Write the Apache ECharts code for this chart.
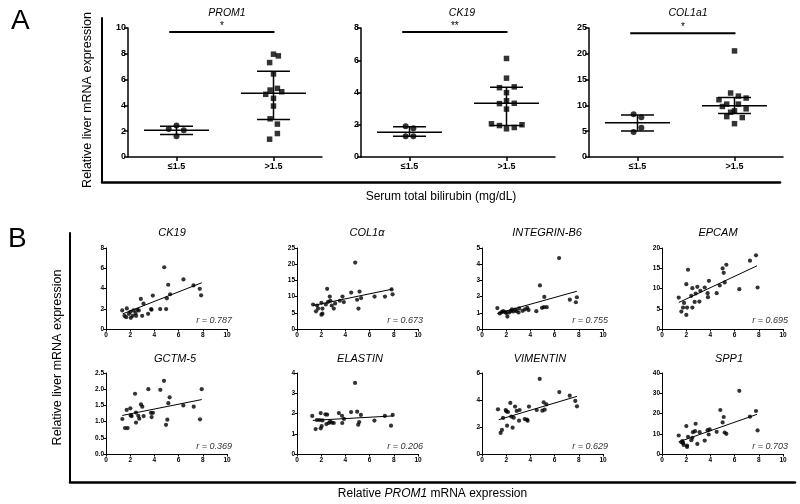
<!DOCTYPE html>
<html><head><meta charset="utf-8">
<script src="https://cdn.jsdelivr.net/npm/echarts@6/dist/echarts.min.js"></script>
<style>html,body{margin:0;padding:0;background:#fff}#c{width:800px;height:504px}</style>
</head><body><div id="c"></div>
<script>
// ---------- DATA: panel A (dot plots) ----------
const groupLabels = ['≤1.5', '>1.5'];
const aTitles = ['PROM1', 'CK19', 'COL1a1'];
const aYMax = [10, 8, 25];
const aYInterval = [2, 2, 5];
// x = group position (1 = ≤1.5, 3 = >1.5) incl. jitter, y = value
const promLowX = [0.84, 1.0, 1.15, 1.0];
const promLowY = [2.18, 2.44, 2.08, 1.61];
const promHighX = [3.0, 3.1, 2.92, 3.0, 2.93, 3.08, 2.84, 3.17, 3.0, 3.0, 2.93, 3.08, 3.08, 2.92];
const promHighY = [7.97, 7.84, 7.32, 6.44, 5.19, 5.32, 4.86, 5.06, 4.55, 3.95, 2.96, 2.55, 1.82, 1.38];
const promSummary = [[1, 2.08, 1.74, 2.39], [3, 4.95, 2.9, 6.65]];

const ckLowX = [0.92, 1.08, 0.92, 1.08];
const ckLowY = [1.91, 1.79, 1.29, 1.29];
const ckHighX = [3.0, 3.0, 2.855, 3.16, 3.0, 2.855, 3.0, 3.16, 3.0, 2.69, 2.855, 3.0, 3.16, 3.32];
const ckHighY = [6.11, 4.89, 4.30, 4.35, 3.99, 3.31, 3.49, 3.33, 2.97, 2.06, 1.95, 1.75, 1.83, 2.0];
const ckSummary = [[1, 1.54, 1.29, 1.87], [3, 3.33, 1.95, 4.32]];

const colLowX = [0.92, 1.08, 1.08, 0.92];
const colLowY = [8.29, 7.70, 5.68, 4.83];
const colHighX = [3.0, 2.92, 3.08, 3.24, 2.68, 2.84, 3.08, 2.75, 3.24, 3.0, 2.92, 2.84, 3.16, 3.0];
const colHighY = [20.56, 12.4, 11.8, 11.42, 11.1, 10.25, 10.25, 9.79, 9.33, 8.94, 8.68, 7.83, 7.64, 6.46];
const colSummary = [[1, 6.66, 5.03, 8.16], [3, 9.92, 8.42, 11.55]];

// significance bars: [xStart, xEnd, y]
const sigBars = [[0.85, 3.02, 9.69], [0.85, 3.02, 7.75], [0.85, 3.02, 24.0]];
const sigLabels = ['*', '**', '*'];

// ---------- DATA: panel B (correlations vs PROM1) ----------
const bTitles = ['CK19', 'COL1α', 'INTEGRIN-B6', 'EPCAM', 'GCTM-5', 'ELASTIN', 'VIMENTIN', 'SPP1'];
const bR = ['r = 0.787', 'r = 0.673', 'r = 0.755', 'r = 0.695', 'r = 0.369', 'r = 0.206', 'r = 0.629', 'r = 0.703'];
const bYMax = [8, 25, 5, 20, 2.5, 4, 6, 40];
const bYInterval = [2, 5, 1, 5, 0.5, 1, 2, 10];

const ck19B = [[1.34,1.83],[1.53,1.3],[1.72,2.03],[1.67,1.17],[1.89,1.5],[2.02,1.7],[2.05,1.1],[2.2,1.3],[2.27,1.83],[2.44,1.57],[2.49,1.3],[2.58,1.9],[2.71,1.83],[2.88,2.97],[2.99,1.3],[3.1,2.5],[3.48,1.5],[3.73,1.97],[3.76,1.9],[3.87,3.3],[4.48,1.97],[4.81,6.1],[4.97,1.97],[5.03,3.03],[5.14,4.37],[5.3,3.43],[6.4,4.9],[7.23,4.3],[7.75,3.97],[7.86,3.33]];
const col1B = [[1.33,7.56],[1.57,5.46],[1.66,7.25],[1.74,6.3],[2.02,8.09],[2.02,4.41],[2.1,4.73],[2.1,6.3],[2.38,7.56],[2.49,12.4],[2.57,8.4],[2.71,10.0],[2.76,8.72],[2.87,7.25],[3.04,6.3],[3.15,7.88],[3.54,8.72],[3.76,10.0],[3.87,8.3],[4.48,11.24],[4.81,20.5],[4.97,9.03],[5.08,6.3],[5.17,11.55],[5.3,9.56],[6.41,10.0],[7.27,10.0],[7.82,12.2],[7.9,10.7]];
const intB = [[1.27,1.29],[1.47,0.96],[1.63,1.04],[1.75,1.1],[1.91,1.04],[2.02,0.98],[2.1,0.77],[2.24,1.02],[2.38,1.1],[2.47,1.21],[2.58,1.08],[2.74,1.19],[2.85,1.1],[3.02,1.02],[3.07,1.27],[3.35,1.12],[3.55,1.21],[3.74,1.31],[3.85,1.17],[4.49,1.1],[4.79,2.69],[4.96,1.31],[5.15,1.98],[5.12,1.35],[5.35,1.35],[6.37,4.38],[7.26,1.81],[7.76,1.65],[7.84,1.96]];
const epcamB = [[1.38,7.77],[1.6,4.3],[1.74,5.29],[1.82,6.45],[2.01,11.07],[2.07,5.29],[2.01,3.47],[2.15,14.63],[2.42,8.18],[2.51,10.08],[2.51,5.29],[2.7,6.69],[2.78,8.76],[2.92,10.41],[3.09,6.78],[3.17,9.42],[3.53,10.25],[3.77,8.84],[3.8,7.85],[3.88,11.9],[4.52,8.84],[4.77,10.74],[5.01,14.96],[5.1,13.88],[5.18,11.49],[5.32,15.87],[6.39,9.83],[7.27,16.86],[7.77,18.18],[7.9,10.25]];
const gctmB = [[1.35,1.08],[1.57,0.8],[1.71,1.36],[1.79,0.8],[2.01,1.41],[2.04,1.19],[2.12,1.17],[2.4,1.86],[2.48,0.97],[2.48,1.28],[2.67,1.18],[2.75,1.09],[2.89,1.53],[3.0,1.46],[3.11,1.17],[3.5,2.0],[3.72,1.27],[3.77,1.14],[3.88,1.27],[4.49,1.98],[4.79,2.26],[4.96,0.9],[5.07,1.06],[5.15,1.57],[5.26,1.75],[6.39,1.5],[7.25,1.46],[7.77,1.07],[7.91,2.0]];
const elastinB = [[1.26,1.88],[1.54,1.23],[1.65,1.68],[1.87,1.68],[1.96,2.02],[1.96,1.27],[2.04,1.38],[2.1,1.66],[2.35,1.96],[2.49,1.94],[2.43,1.48],[2.63,1.53],[2.74,1.6],[2.88,1.55],[3.04,1.53],[3.46,2.02],[3.72,1.89],[3.74,1.53],[3.88,1.73],[4.47,2.07],[4.8,3.51],[4.97,2.09],[5.06,1.45],[5.14,1.58],[5.28,1.93],[6.4,1.65],[7.26,1.88],[7.77,1.4],[7.91,1.93]];
const vimB = [[1.32,3.31],[1.54,1.56],[1.65,1.78],[1.74,2.67],[1.96,3.26],[2.01,3.16],[2.07,2.1],[2.15,3.11],[2.34,3.78],[2.42,2.77],[2.53,1.95],[2.62,2.69],[2.73,3.51],[2.87,3.19],[3.06,2.47],[3.11,3.26],[3.53,2.59],[3.72,2.54],[3.77,2.47],[3.88,3.51],[4.52,3.26],[4.77,5.56],[4.99,3.21],[5.1,3.83],[5.18,3.28],[5.32,3.68],[6.39,4.59],[7.25,4.32],[7.71,3.93],[7.85,3.53]];
const spp1B = [[1.38,9.13],[1.6,5.81],[1.74,5.48],[1.79,4.48],[1.68,6.31],[2.01,13.78],[2.07,3.49],[2.15,8.46],[2.07,4.15],[2.42,6.8],[2.51,7.97],[2.56,10.79],[2.73,11.29],[2.78,14.94],[2.92,4.98],[3.11,10.79],[3.53,6.64],[3.77,11.78],[3.86,9.63],[3.94,12.12],[4.52,10.95],[4.82,21.74],[5.01,15.6],[5.1,18.26],[5.18,10.62],[5.32,9.96],[6.39,31.2],[7.27,18.42],[7.77,21.24],[7.9,11.62]];
// regression line end points
const bFits = [
  [[1.39,1.5],[7.92,4.57]], [[1.33,7.25],[7.87,12.3]], [[1.27,0.96],[7.84,2.33]], [[1.38,6.53],[7.85,15.6]],
  [[1.35,1.19],[7.91,1.68]], [[1.31,1.66],[7.93,1.88]], [[1.38,2.54],[7.85,4.27]], [[1.38,5.98],[7.85,19.58]]
];
const bPoints = [ck19B, col1B, intB, epcamB, gctmB, elastinB, vimB, spp1B];

// ---------- LAYOUT ----------
const FONT = 'Liberation Sans, Arial, Helvetica, sans-serif';
const aLeft = [128, 361, 589], aTop = 28, aW = 194, aH = 129;
const aTitleX = [222, 457, 683];
const bLeft = [106, 297, 482, 662], bTopRow = [248, 373], bW = 121, bH = 81;
const bTitleX = [167, 362, 542, 713, 170, 355, 535, 724];
const MEAN_HALF = 0.67, WHISK_HALF = 0.34;

const grid = [], xAxis = [], yAxis = [], series = [], title = [];

function seg(api, x1, y1, x2, y2, w) {
  const p1 = api.coord([x1, y1]), p2 = api.coord([x2, y2]);
  return { type: 'line', shape: { x1: p1[0], y1: p1[1], x2: p2[0], y2: p2[1] }, style: { stroke: '#000', lineWidth: w } };
}

// Panel A frame
grid.push({ left: 102, top: 18, width: 678, height: 164 });
xAxis.push({ gridIndex: 0, type: 'value', min: 0, max: 1, axisLine: { lineStyle: { color: '#000', width: 2.5 } },
  axisTick: { show: false }, axisLabel: { show: false }, splitLine: { show: false },
  name: 'Serum total bilirubin (mg/dL)', nameLocation: 'middle', nameGap: 9,
  nameTextStyle: { fontFamily: FONT, fontSize: 12, color: '#000' } });
yAxis.push({ gridIndex: 0, type: 'value', min: 0, max: 1, axisLine: { lineStyle: { color: '#000', width: 2 } },
  axisTick: { show: false }, axisLabel: { show: false }, splitLine: { show: false },
  name: 'Relative liver mRNA expression', nameLocation: 'middle', nameGap: 8,
  nameTextStyle: { fontFamily: FONT, fontSize: 12.5, color: '#000' } });

const aData = [
  { lx: promLowX, ly: promLowY, hx: promHighX, hy: promHighY, s: promSummary },
  { lx: ckLowX, ly: ckLowY, hx: ckHighX, hy: ckHighY, s: ckSummary },
  { lx: colLowX, ly: colLowY, hx: colHighX, hy: colHighY, s: colSummary }
];
aData.forEach((d, i) => {
  const gi = grid.length;
  grid.push({ left: aLeft[i], top: aTop, width: aW, height: aH });
  xAxis.push({ gridIndex: gi, type: 'value', min: 0, max: 4,
    axisLine: { lineStyle: { color: '#000', width: 1.5 } },
    axisTick: { customValues: [1, 3], length: 4, lineStyle: { color: '#000', width: 1.5 } },
    axisLabel: { customValues: [1, 3], formatter: v => groupLabels[Math.round((v - 1) / 2)], fontFamily: FONT, fontSize: 9, fontWeight: 'bold', color: '#000', margin: 5 },
    splitLine: { show: false } });
  yAxis.push({ gridIndex: gi, type: 'value', min: 0, max: aYMax[i], interval: aYInterval[i],
    axisLine: { show: true, lineStyle: { color: '#000', width: 1.5 } },
    axisTick: { show: true, length: 4, lineStyle: { color: '#000', width: 1.5 } },
    axisLabel: { fontFamily: FONT, fontSize: 9, fontWeight: 'bold', color: '#000', margin: 2 },
    splitLine: { show: false } });
  series.push({ type: 'scatter', xAxisIndex: gi, yAxisIndex: gi, symbol: 'circle', symbolSize: 6,
    itemStyle: { color: '#000' }, data: d.lx.map((x, k) => [x, d.ly[k]]), silent: true });
  series.push({ type: 'scatter', xAxisIndex: gi, yAxisIndex: gi, symbol: 'rect', symbolSize: 5.5,
    itemStyle: { color: '#000' }, data: d.hx.map((x, k) => [x, d.hy[k]]), silent: true });
  series.push({ type: 'custom', xAxisIndex: gi, yAxisIndex: gi, data: d.s, silent: true,
    renderItem: (p, api) => {
      const x = api.value(0), m = api.value(1), lo = api.value(2), hi = api.value(3);
      return { type: 'group', children: [
        seg(api, x - MEAN_HALF, m, x + MEAN_HALF, m, 1.5),
        seg(api, x - WHISK_HALF, lo, x + WHISK_HALF, lo, 1.5),
        seg(api, x - WHISK_HALF, hi, x + WHISK_HALF, hi, 1.5),
        seg(api, x, lo, x, hi, 1.5)] };
    } });
  series.push({ type: 'custom', xAxisIndex: gi, yAxisIndex: gi, data: [sigBars[i]], silent: true,
    renderItem: (p, api) => {
      const x1 = api.value(0), x2 = api.value(1), y = api.value(2);
      const mid = api.coord([(x1 + x2) / 2, y]);
      return { type: 'group', children: [
        seg(api, x1, y, x2, y, 2),
        { type: 'text', x: mid[0], y: mid[1] - 1, style: { text: sigLabels[i], textAlign: 'center', textVerticalAlign: 'bottom', fontFamily: FONT, fontSize: 10, fill: '#000' } }] };
    } });
  title.push({ text: aTitles[i], left: aTitleX[i], top: 3, textAlign: 'center',
    textStyle: { fontFamily: FONT, fontSize: 10.5, fontStyle: 'italic', fontWeight: 'normal', color: '#000' } });
});

// Panel B frame
const bf = grid.length;
grid.push({ left: 70, top: 233, width: 725, height: 249 });
xAxis.push({ gridIndex: bf, type: 'value', min: 0, max: 1, axisLine: { lineStyle: { color: '#000', width: 2.5 } },
  axisTick: { show: false }, axisLabel: { show: false }, splitLine: { show: false },
  name: 'Relative {i|PROM1} mRNA expression', nameLocation: 'middle', nameGap: 6,
  nameTextStyle: { fontFamily: FONT, fontSize: 12, color: '#000', rich: { i: { fontFamily: FONT, fontSize: 12, fontStyle: 'italic', color: '#000' } } } });
yAxis.push({ gridIndex: bf, type: 'value', min: 0, max: 1, axisLine: { lineStyle: { color: '#000', width: 2 } },
  axisTick: { show: false }, axisLabel: { show: false }, splitLine: { show: false },
  name: 'Relative liver mRNA expression', nameLocation: 'middle', nameGap: 6,
  nameTextStyle: { fontFamily: FONT, fontSize: 12.5, color: '#000' } });

bPoints.forEach((pts, i) => {
  const gi = grid.length;
  const row = Math.floor(i / 4), col = i % 4;
  grid.push({ left: bLeft[col], top: bTopRow[row], width: bW, height: bH });
  xAxis.push({ gridIndex: gi, type: 'value', min: 0, max: 10, interval: 2,
    axisLine: { lineStyle: { color: '#000', width: 1 } },
    axisTick: { length: 2.5, lineStyle: { color: '#000', width: 1 } },
    axisLabel: { fontFamily: FONT, fontSize: 6.5, fontWeight: 'bold', color: '#000', margin: 3 },
    splitLine: { show: false } });
  yAxis.push({ gridIndex: gi, type: 'value', min: 0, max: bYMax[i], interval: bYInterval[i],
    axisLine: { show: true, lineStyle: { color: '#000', width: 1 } },
    axisTick: { show: true, length: 2.5, lineStyle: { color: '#000', width: 1 } },
    axisLabel: { fontFamily: FONT, fontSize: 6.5, fontWeight: 'bold', color: '#000', margin: 2,
      formatter: v => bYInterval[i] < 1 ? v.toFixed(1) : String(v) },
    splitLine: { show: false } });
  series.push({ type: 'scatter', xAxisIndex: gi, yAxisIndex: gi, symbol: 'circle', symbolSize: 4.2,
    itemStyle: { color: '#000' }, data: pts, silent: true });
  series.push({ type: 'line', xAxisIndex: gi, yAxisIndex: gi, data: bFits[i], symbol: 'none',
    lineStyle: { color: '#000', width: 1 }, silent: true });
  title.push({ text: bTitles[i], left: bTitleX[i], top: row === 0 ? 222 : 348, textAlign: 'center',
    textStyle: { fontFamily: FONT, fontSize: 11, fontStyle: 'italic', fontWeight: 'normal', color: '#000' } });
  title.push({ text: bR[i], left: bLeft[col] + bW, top: row === 0 ? 311 : 437, textAlign: 'right',
    textStyle: { fontFamily: FONT, fontSize: 9, fontStyle: 'italic', fontWeight: 'normal', color: '#333' } });
});

title.push({ text: 'A', left: 6, top: 2, textStyle: { fontFamily: FONT, fontSize: 28, fontWeight: 'normal', color: '#000' } });
title.push({ text: 'B', left: 3, top: 220, textStyle: { fontFamily: FONT, fontSize: 28, fontWeight: 'normal', color: '#000' } });

const chart = echarts.init(document.getElementById('c'), null, { renderer: 'canvas' });
chart.setOption({ animation: false, backgroundColor: '#fff', title, grid, xAxis, yAxis, series });
</script></body></html>
